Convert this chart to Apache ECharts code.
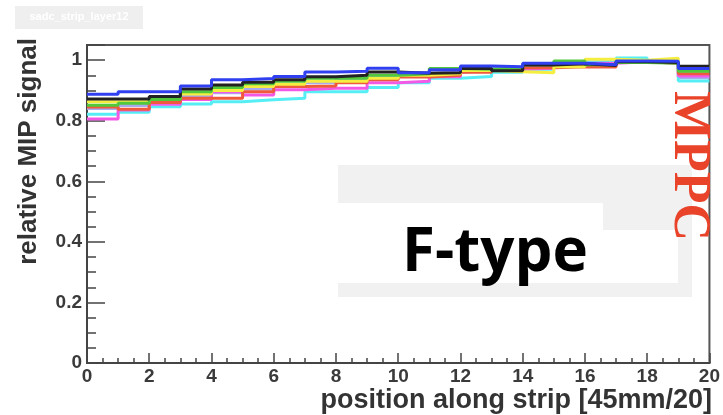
<!DOCTYPE html>
<html>
<head>
<meta charset="utf-8">
<script src="https://cdn.jsdelivr.net/npm/echarts@6/dist/echarts.min.js"></script>
<style>html,body{margin:0;padding:0;background:#fff;}#c{width:723px;height:415px;}</style>
</head>
<body>
<div id="c"></div>
<script>
// bin lower edges (20 bins of width 1, 0..20)
const binEdges = [0,1,2,3,4,5,6,7,8,9,10,11,12,13,14,15,16,17,18,19,20];
const xTicks = [0,2,4,6,8,10,12,14,16,18,20];
const yTicks = [0,0.2,0.4,0.6,0.8,1];

const blueVals    = [0.887,0.896,0.896,0.915,0.935,0.939,0.946,0.961,0.963,0.973,0.958,0.968,0.981,0.978,0.990,0.990,0.985,0.997,0.996,0.972];
const blackVals   = [0.872,0.872,0.880,0.905,0.918,0.927,0.935,0.945,0.950,0.961,0.957,0.958,0.972,0.965,0.984,0.988,0.982,0.995,0.992,0.980];
const greenVals   = [0.851,0.858,0.870,0.896,0.910,0.922,0.930,0.940,0.940,0.950,0.955,0.972,0.970,0.975,0.985,0.997,0.985,0.992,0.990,0.963];
const yellowVals  = [0.863,0.863,0.874,0.888,0.900,0.913,0.920,0.930,0.930,0.940,0.950,0.955,0.966,0.962,0.958,0.978,1.003,1.000,1.006,0.977];
const redVals     = [0.845,0.838,0.860,0.874,0.874,0.896,0.913,0.915,0.925,0.935,0.944,0.950,0.960,0.968,0.975,0.978,0.977,0.995,0.990,0.955];
const magentaVals = [0.806,0.835,0.854,0.870,0.896,0.885,0.902,0.907,0.907,0.925,0.930,0.945,0.967,0.970,0.973,0.982,0.990,0.995,0.990,0.948];
const cyanVals    = [0.821,0.828,0.846,0.855,0.863,0.869,0.874,0.896,0.896,0.910,0.925,0.940,0.946,0.960,0.970,0.980,0.995,1.007,0.996,0.931];
const lavenderVals= [0.840,0.850,0.862,0.880,0.892,0.905,0.915,0.925,0.935,0.948,0.957,0.960,0.965,0.975,0.978,0.984,0.988,0.996,0.994,0.942];

const seriesDefs = [
  {name:'lavender', color:'#a9a9ee', vals:lavenderVals},
  {name:'cyan', color:'#55eef5', vals:cyanVals},
  {name:'magenta', color:'#f25ae6', vals:magentaVals},
  {name:'red', color:'#f05a3c', vals:redVals},
  {name:'yellow', color:'#f5ee40', vals:yellowVals},
  {name:'green', color:'#52c83c', vals:greenVals},
  {name:'black', color:'#222222', vals:blackVals},
  {name:'blue', color:'#3040f0', vals:blueVals}
];

function stepData(vals){
  const d = vals.map((v,i)=>[binEdges[i], v]);
  d.push([binEdges[binEdges.length-1], vals[vals.length-1]]);
  return d;
}

const chart = echarts.init(document.getElementById('c'), null, {renderer:'canvas'});
const labelFont = {fontFamily:'Liberation Sans', fontWeight:'bold', fontSize:19, color:'#3a3a3a'};

chart.setOption({
  animation:false,
  backgroundColor:'#fff',
  grid:{left:87, right:12, top:45, bottom:52, show:true, borderColor:'#555', borderWidth:2, backgroundColor:'transparent'},
  xAxis:{
    type:'value', min:0, max:20, interval:2,
    axisLine:{show:true, lineStyle:{color:'#444', width:2}},
    axisTick:{show:true, inside:true, length:10, lineStyle:{color:'#444', width:1.5}},
    minorTick:{show:true, splitNumber:4, length:5, lineStyle:{color:'#444', width:1.5}},
    splitLine:{show:false},
    axisLabel:Object.assign({margin:4, formatter:v=> xTicks.indexOf(v)>=0 ? String(v) : ''}, labelFont)
  },
  yAxis:{
    type:'value', min:0, max:1.05, interval:0.2,
    axisLine:{show:true, lineStyle:{color:'#444', width:2}},
    axisTick:{show:true, inside:true, length:18, lineStyle:{color:'#444', width:1.5}},
    minorTick:{show:true, splitNumber:4, length:9, lineStyle:{color:'#444', width:1.5}},
    splitLine:{show:false},
    axisLabel:Object.assign({margin:5, showMaxLabel:false, formatter:v=>{
      const t = yTicks.find(x=>Math.abs(x-v)<1e-6); return t===undefined ? '' : String(t);}}, labelFont)
  },
  series: seriesDefs.map(s=>({
    type:'line', name:s.name, step:'end', symbol:'none', data:stepData(s.vals),
    lineStyle:{color:s.color, width:3}, z:3
  })),
  graphic:[
    {type:'rect', shape:{x:15,y:6,width:128,height:23}, style:{fill:'#efefef'}, z:0},
    {type:'text', x:79, y:17, style:{text:'sadc_strip_layer12', fill:'#ffffff', font:'bold 11px "Liberation Sans"', textAlign:'center', textVerticalAlign:'middle'}, z:1},
    {type:'rect', shape:{x:338,y:165,width:354,height:132}, style:{fill:'#f1f1f1'}, z:0},
    {type:'rect', shape:{x:338,y:203,width:265,height:27}, style:{fill:'#ffffff'}, z:1},
    {type:'rect', shape:{x:338,y:230,width:340,height:53}, style:{fill:'#ffffff'}, z:1},
    {type:'text', x:495, y:254, style:{text:'F-type', fill:'#000', font:'bold 60px "Open Sans"', textAlign:'center', textVerticalAlign:'middle'}, z:5},
    {type:'text', x:688, y:166, rotation:-Math.PI/2, style:{text:'MPPC', fill:'#e9432a', font:'bold 52px "Liberation Serif"', textAlign:'center', textVerticalAlign:'middle'}, z:5},
    {type:'text', x:29, y:38, rotation:Math.PI/2, style:{text:'relative MIP signal', fill:'#333', font:'bold 26px "Liberation Sans"', textAlign:'right', textVerticalAlign:'middle'}, z:5},
    {type:'text', x:712, y:401, style:{text:'position along strip [45mm/20]', fill:'#333', font:'bold 27px "Liberation Sans"', textAlign:'right', textVerticalAlign:'middle'}, z:5}
  ]
});
</script>
</body>
</html>
